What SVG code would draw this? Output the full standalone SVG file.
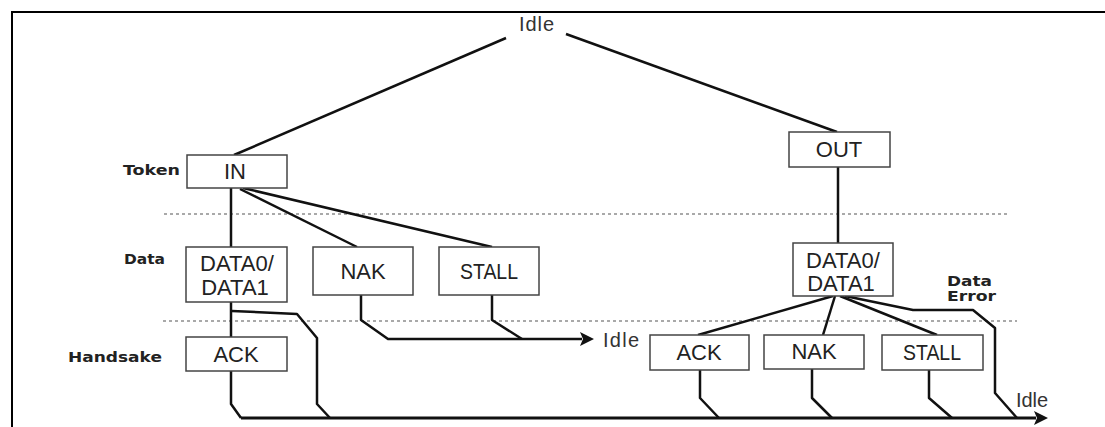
<svg xmlns="http://www.w3.org/2000/svg" width="1105" height="427" viewBox="0 0 1105 427">
<style>
.box{fill:#fff;stroke:#444;stroke-width:1.5}
.bt{font-family:"Liberation Sans",Arial,sans-serif;font-size:22px;fill:#222;text-anchor:middle}
.lb{font-family:"DejaVu Sans",Verdana,sans-serif;font-size:14px;font-weight:bold;fill:#222}
.idle{font-family:"Liberation Sans",Arial,sans-serif;font-size:20px;fill:#333}
.c{fill:none;stroke:#111;stroke-width:2.5;stroke-linejoin:round}
.dot{fill:none;stroke:#555;stroke-width:1.2;stroke-dasharray:3 3}
.frame{fill:none;stroke:#000;stroke-width:2}
</style>
<defs>
<marker id="arr" markerWidth="14" markerHeight="14" refX="2" refY="7" orient="auto" markerUnits="userSpaceOnUse">
<path d="M0,0 L14,7 L0,14 L3,7 Z" fill="#111"/>
</marker>
</defs>
<rect width="1105" height="427" fill="#fff"/>
<g id="frame">
<path class="frame" d="M1105,12 H12 V427"/>
</g>
<g id="dividers">
<line class="dot" x1="164" y1="214" x2="1008" y2="214"/>
<line class="dot" x1="163" y1="321" x2="1017" y2="321"/>
</g>
<g id="labels">
<text class="lb" x="123" y="175" textLength="57" lengthAdjust="spacingAndGlyphs">Token</text>
<text class="lb" x="124" y="264" textLength="41" lengthAdjust="spacingAndGlyphs">Data</text>
<text class="lb" x="68" y="362" textLength="94" lengthAdjust="spacingAndGlyphs">Handsake</text>
<text class="lb" x="947" y="286" textLength="45" lengthAdjust="spacingAndGlyphs">Data</text>
<text class="lb" x="947" y="301" textLength="49" lengthAdjust="spacingAndGlyphs">Error</text>
</g>
<g id="connectors">
<line class="c" x1="506" y1="38" x2="234" y2="155"/>
<line class="c" x1="566" y1="34" x2="837" y2="132"/>
<line class="c" x1="231" y1="188" x2="231" y2="247"/>
<line class="c" x1="240" y1="189" x2="357" y2="247"/>
<line class="c" x1="243" y1="188" x2="492" y2="247"/>
<line class="c" x1="231" y1="302" x2="231" y2="337"/>
<polyline class="c" points="231,371 231,404 241,418"/>
<polyline class="c" points="232,311 297,314 317,338 317,404 330,418"/>
<polyline class="c" points="361,295 361,320 388,339 582,339" marker-end="url(#arr)"/>
<polyline class="c" points="492,295 492,320 522,339"/>
<line class="c" x1="838" y1="167" x2="838" y2="243"/>
<line class="c" x1="833" y1="296" x2="698" y2="335"/>
<line class="c" x1="835" y1="296" x2="823" y2="335"/>
<line class="c" x1="840" y1="296" x2="937" y2="335"/>
<polyline class="c" points="845,296 913,310 973,310 995,328 995,393 1017,418"/>
<polyline class="c" points="700,370 700,398 719,418"/>
<polyline class="c" points="812,369 812,398 832,418"/>
<polyline class="c" points="929,370 929,398 952,418"/>
<line class="c" x1="241" y1="418" x2="1036" y2="418" marker-end="url(#arr)" style="stroke-width:3"/>
</g>
<g id="idle-top"><text class="idle" x="519" y="31" textLength="35">Idle</text></g>
<g id="idle-mid"><text class="idle" x="603" y="347" textLength="36">Idle</text></g>
<g id="idle-end"><text class="idle" x="1016" y="407" textLength="32">Idle</text></g>
<g id="in"><rect class="box" x="187" y="155" width="100" height="33"/><text class="bt" x="235" y="179">IN</text></g>
<g id="data-in"><rect class="box" x="186" y="247" width="101" height="55"/><text class="bt" x="237" y="271">DATA0/</text><text class="bt" x="235" y="295">DATA1</text></g>
<g id="nak-in"><rect class="box" x="313" y="247" width="100" height="48"/><text class="bt" x="363" y="279">NAK</text></g>
<g id="stall-in"><rect class="box" x="439" y="247" width="100" height="48"/><text class="bt" x="489" y="279" textLength="58" lengthAdjust="spacingAndGlyphs">STALL</text></g>
<g id="ack-in"><rect class="box" x="186" y="337" width="101" height="34"/><text class="bt" x="236" y="362">ACK</text></g>
<g id="out"><rect class="box" x="789" y="132" width="101" height="35"/><text class="bt" x="839" y="157">OUT</text></g>
<g id="data-out"><rect class="box" x="793" y="243" width="100" height="53"/><text class="bt" x="843" y="268">DATA0/</text><text class="bt" x="841" y="291">DATA1</text></g>
<g id="ack-out"><rect class="box" x="650" y="335" width="99" height="35"/><text class="bt" x="699" y="360">ACK</text></g>
<g id="nak-out"><rect class="box" x="764" y="335" width="100" height="34"/><text class="bt" x="814" y="359">NAK</text></g>
<g id="stall-out"><rect class="box" x="882" y="335" width="101" height="35"/><text class="bt" x="932" y="360" textLength="58" lengthAdjust="spacingAndGlyphs">STALL</text></g>
</svg>
